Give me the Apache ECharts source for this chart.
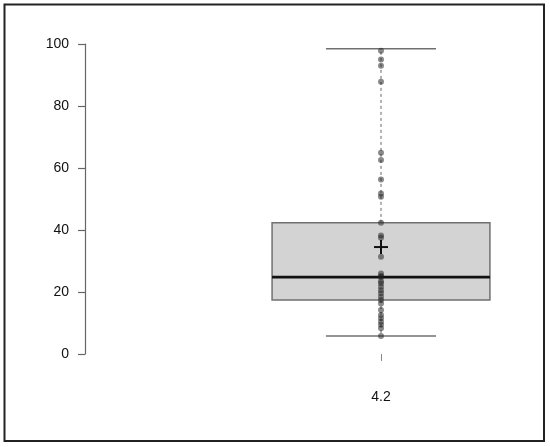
<!DOCTYPE html>
<html>
<head>
<meta charset="utf-8">
<script src="https://cdn.jsdelivr.net/npm/echarts@6/dist/echarts.min.js"></script>
<style>html,body{margin:0;padding:0;background:#fff;}#c{width:550px;height:447px;}</style>
</head>
<body>
<div id="c"></div>
<script>
// ---- data ----
var categories = ['4.2'];
var categoryPos = [1];
var boxStats = [5.8, 17.4, 24.8, 42.3, 98.5]; // min, q1, median, q3, max
var meanValue = 34.5;
var pointValues = [97.8, 95, 93, 87.8, 64.9, 62.6, 56.3, 51.8, 50.7, 42.3, 38.2, 37.5, 31.4,
  26, 25.2, 24.8, 23.5, 22.8, 21.7, 20.6, 19.6, 18.5, 17.4, 16.3, 14.2, 12.6, 11.5, 10.4, 9.4, 8.3, 5.8];
var yTicks = [0, 20, 40, 60, 80, 100];

// ---- style ----
var BOX_HALF = 0.368, CAP_HALF = 0.186;
var FONT = 'Liberation Sans, Arial, sans-serif';

var chart = echarts.init(document.getElementById('c'), null, {renderer: 'canvas'});

var boxData = [[categoryPos[0]].concat(boxStats)];
var pointData = pointValues.map(function (v) { return [categoryPos[0], v]; });

var option = {
  animation: false,
  backgroundColor: '#fff',
  grid: {left: 85, right: 50.6, top: 44, bottom: 93},
  xAxis: {
    type: 'value', min: 0, max: 1.4, interval: 1,
    position: 'bottom', offset: 14,
    axisLine: {show: false},
    axisTick: {show: true, length: 7, customValues: categoryPos, lineStyle: {color: '#888', width: 1}},
    axisLabel: {show: true, customValues: categoryPos, margin: 22, color: '#111', fontSize: 14, fontFamily: FONT,
      formatter: function (v) { var i = categoryPos.indexOf(v); return i >= 0 ? categories[i] : ''; }},
    splitLine: {show: false}
  },
  yAxis: {
    type: 'value', min: 0, max: 100, interval: 20,
    axisLine: {show: true, lineStyle: {color: '#666', width: 1.2}},
    axisTick: {show: true, length: 7, lineStyle: {color: '#666', width: 1.2}},
    axisLabel: {margin: 16, color: '#111', fontSize: 14, fontFamily: FONT},
    splitLine: {show: false}
  },
  graphic: [{
    type: 'rect', silent: true, z: 100,
    shape: {x: 4.5, y: 4.5, width: 539.5, height: 436.5},
    style: {fill: 'none', stroke: '#222', lineWidth: 2}
  }],
  series: [
    {
      type: 'custom', z: 2,
      data: boxData,
      encode: {x: 0, y: [1, 2, 3, 4, 5]},
      renderItem: function (params, api) {
        var x = api.value(0);
        var mn = api.coord([x, api.value(1)]);
        var q1 = api.coord([x, api.value(2)]);
        var md = api.coord([x, api.value(3)]);
        var q3 = api.coord([x, api.value(4)]);
        var mx = api.coord([x, api.value(5)]);
        var bl = api.coord([x - BOX_HALF, 0])[0];
        var br = api.coord([x + BOX_HALF, 0])[0];
        var cl = api.coord([x - CAP_HALF, 0])[0];
        var cr = api.coord([x + CAP_HALF, 0])[0];
        var cx = mn[0];
        var dash = {stroke: '#666', lineWidth: 1, lineDash: [3, 3], fill: 'none'};
        var solid = {stroke: '#707070', lineWidth: 1.5, fill: 'none'};
        return {
          type: 'group',
          children: [
            {type: 'line', shape: {x1: cx, y1: q3[1], x2: cx, y2: mx[1]}, style: dash},
            {type: 'line', shape: {x1: cx, y1: q1[1], x2: cx, y2: mn[1]}, style: dash},
            {type: 'line', shape: {x1: cl, y1: mx[1], x2: cr, y2: mx[1]}, style: solid},
            {type: 'line', shape: {x1: cl, y1: mn[1], x2: cr, y2: mn[1]}, style: solid},
            {type: 'rect', shape: {x: bl, y: q3[1], width: br - bl, height: q1[1] - q3[1]},
              style: {fill: '#d3d3d3', stroke: '#707070', lineWidth: 1.5}},
            {type: 'line', shape: {x1: bl, y1: md[1], x2: br, y2: md[1]}, style: {stroke: '#111', lineWidth: 2.8}}
          ]
        };
      }
    },
    {
      type: 'scatter', z: 3,
      data: pointData,
      symbol: 'circle', symbolSize: 6,
      itemStyle: {color: 'rgba(30,30,30,0.65)', borderWidth: 0}
    },
    {
      type: 'custom', z: 4,
      data: [[categoryPos[0], meanValue]],
      renderItem: function (params, api) {
        var p = api.coord([api.value(0), api.value(1)]);
        var s = 7;
        var st = {stroke: '#111', lineWidth: 2, fill: 'none'};
        return {type: 'group', children: [
          {type: 'line', shape: {x1: p[0] - s, y1: p[1], x2: p[0] + s, y2: p[1]}, style: st},
          {type: 'line', shape: {x1: p[0], y1: p[1] - s, x2: p[0], y2: p[1] + s}, style: st}
        ]};
      }
    }
  ]
};
chart.setOption(option);
</script>
</body>
</html>
